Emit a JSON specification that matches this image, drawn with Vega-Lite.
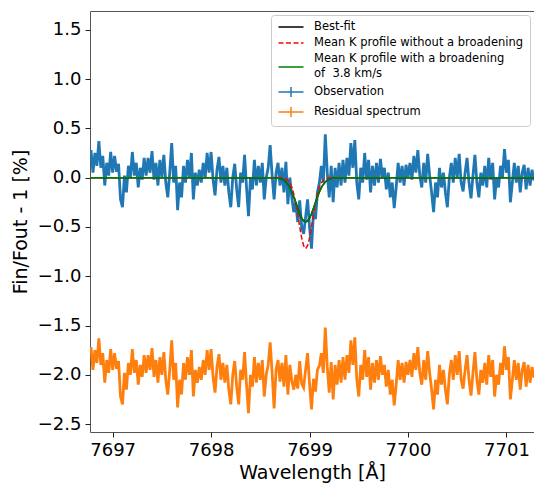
{
  "$schema": "https://vega.github.io/schema/vega-lite/v6.json",
  "width": 444,
  "height": 421,
  "autosize": "none",
  "padding": {"left": 90, "top": 11, "right": 0, "bottom": 55},
  "config": {
    "font": "DejaVu Sans",
    "view": {"stroke": "#555", "strokeWidth": 1},
    "axis": {"grid": false, "domain": false, "tickColor": "#222", "tickSize": 5, "tickWidth": 1, "labelFontSize": 18, "labelColor": "#000", "titleFontSize": 19, "titleFontWeight": "normal", "titleColor": "#000", "labelFont": "DejaVu Sans", "titleFont": "DejaVu Sans"},
    "axisY": {"labelPadding": 4, "titlePadding": 7},
    "axisX": {"labelPadding": 4, "titlePadding": 4}
  },
  "datasets": {
    "spec": [
      {"w":7696.78,"o":0.28,"r":-1.72},{"w":7696.80,"o":0.05,"r":-1.95},{"w":7696.82,"o":0.25,"r":-1.75},{"w":7696.84,"o":0.12,"r":-1.88},
      {"w":7696.86,"o":0.37,"r":-1.63},{"w":7696.88,"o":0.10,"r":-1.90},{"w":7696.90,"o":0.22,"r":-1.78},{"w":7696.92,"o":-0.08,"r":-2.08},
      {"w":7696.94,"o":0.15,"r":-1.85},{"w":7696.96,"o":0.02,"r":-1.98},{"w":7696.98,"o":0.26,"r":-1.74},{"w":7697.00,"o":0.05,"r":-1.95},
      {"w":7697.02,"o":0.22,"r":-1.78},{"w":7697.04,"o":0.06,"r":-1.94},{"w":7697.06,"o":0.14,"r":-1.86},{"w":7697.08,"o":-0.22,"r":-2.22},
      {"w":7697.10,"o":-0.30,"r":-2.30},{"w":7697.12,"o":0.02,"r":-1.98},{"w":7697.14,"o":-0.15,"r":-2.15},{"w":7697.16,"o":0.12,"r":-1.88},
      {"w":7697.18,"o":0.00,"r":-2.00},{"w":7697.20,"o":0.26,"r":-1.74},{"w":7697.22,"o":0.02,"r":-1.98},{"w":7697.24,"o":0.15,"r":-1.85},
      {"w":7697.26,"o":-0.10,"r":-2.10},{"w":7697.28,"o":0.10,"r":-1.90},{"w":7697.30,"o":-0.02,"r":-2.02},{"w":7697.32,"o":0.20,"r":-1.80},
      {"w":7697.34,"o":0.02,"r":-1.98},{"w":7697.36,"o":0.20,"r":-1.80},{"w":7697.38,"o":0.05,"r":-1.95},{"w":7697.40,"o":0.27,"r":-1.73},
      {"w":7697.42,"o":-0.02,"r":-2.02},{"w":7697.44,"o":0.15,"r":-1.85},{"w":7697.46,"o":-0.08,"r":-2.08},{"w":7697.48,"o":0.18,"r":-1.82},
      {"w":7697.50,"o":0.00,"r":-2.00},{"w":7697.52,"o":0.23,"r":-1.77},{"w":7697.54,"o":-0.05,"r":-2.05},{"w":7697.56,"o":-0.20,"r":-2.20},
      {"w":7697.58,"o":0.05,"r":-1.95},{"w":7697.60,"o":0.35,"r":-1.65},{"w":7697.62,"o":-0.05,"r":-2.05},{"w":7697.64,"o":0.12,"r":-1.88},
      {"w":7697.66,"o":-0.33,"r":-2.33},{"w":7697.68,"o":-0.05,"r":-2.05},{"w":7697.70,"o":-0.20,"r":-2.20},{"w":7697.72,"o":0.12,"r":-1.88},
      {"w":7697.74,"o":-0.05,"r":-2.05},{"w":7697.76,"o":0.18,"r":-1.82},{"w":7697.78,"o":0.00,"r":-2.00},{"w":7697.80,"o":0.25,"r":-1.75},
      {"w":7697.82,"o":-0.22,"r":-2.22},{"w":7697.84,"o":0.05,"r":-1.95},{"w":7697.86,"o":-0.08,"r":-2.08},{"w":7697.88,"o":0.08,"r":-1.92},
      {"w":7697.90,"o":-0.05,"r":-2.05},{"w":7697.92,"o":0.15,"r":-1.85},{"w":7697.94,"o":0.00,"r":-2.00},{"w":7697.96,"o":0.25,"r":-1.75},
      {"w":7697.98,"o":0.05,"r":-1.95},{"w":7698.00,"o":0.26,"r":-1.74},{"w":7698.02,"o":-0.02,"r":-2.02},{"w":7698.04,"o":-0.18,"r":-2.18},
      {"w":7698.06,"o":0.08,"r":-1.92},{"w":7698.08,"o":0.21,"r":-1.79},{"w":7698.10,"o":-0.05,"r":-2.05},{"w":7698.12,"o":0.12,"r":-1.88},
      {"w":7698.14,"o":-0.08,"r":-2.08},{"w":7698.16,"o":0.10,"r":-1.90},{"w":7698.18,"o":-0.15,"r":-2.15},{"w":7698.20,"o":-0.30,"r":-2.30},
      {"w":7698.22,"o":0.00,"r":-2.00},{"w":7698.24,"o":0.14,"r":-1.86},{"w":7698.26,"o":-0.12,"r":-2.12},{"w":7698.28,"o":-0.30,"r":-2.30},
      {"w":7698.30,"o":0.05,"r":-1.95},{"w":7698.32,"o":-0.05,"r":-2.05},{"w":7698.34,"o":0.23,"r":-1.77},{"w":7698.36,"o":-0.10,"r":-2.10},
      {"w":7698.38,"o":-0.39,"r":-2.39},{"w":7698.40,"o":0.00,"r":-2.00},{"w":7698.42,"o":-0.12,"r":-2.12},{"w":7698.44,"o":0.18,"r":-1.82},
      {"w":7698.46,"o":-0.08,"r":-2.08},{"w":7698.48,"o":0.12,"r":-1.88},{"w":7698.50,"o":-0.05,"r":-2.05},{"w":7698.52,"o":0.15,"r":-1.85},
      {"w":7698.54,"o":-0.22,"r":-2.22},{"w":7698.56,"o":0.00,"r":-2.00},{"w":7698.58,"o":0.10,"r":-1.90},{"w":7698.60,"o":0.33,"r":-1.67},
      {"w":7698.62,"o":0.02,"r":-1.98},{"w":7698.64,"o":-0.22,"r":-2.34},{"w":7698.66,"o":0.05,"r":-1.95},{"w":7698.68,"o":0.15,"r":-1.85},
      {"w":7698.70,"o":-0.08,"r":-2.07},{"w":7698.72,"o":0.10,"r":-1.88},{"w":7698.74,"o":-0.15,"r":-2.12},{"w":7698.76,"o":0.16,"r":-1.80},
      {"w":7698.78,"o":-0.27,"r":-2.20},{"w":7698.80,"o":0.00,"r":-1.90},{"w":7698.82,"o":-0.20,"r":-2.06},{"w":7698.84,"o":-0.35,"r":-2.15},
      {"w":7698.86,"o":-0.25,"r":-2.00},{"w":7698.88,"o":-0.45,"r":-2.14},{"w":7698.90,"o":-0.23,"r":-1.86},{"w":7698.92,"o":-0.50,"r":-2.09},
      {"w":7698.94,"o":-0.57,"r":-2.13},{"w":7698.96,"o":-0.40,"r":-1.95},{"w":7698.98,"o":-0.22,"r":-1.78},{"w":7699.00,"o":-0.50,"r":-2.09},
      {"w":7699.02,"o":-0.72,"r":-2.35},{"w":7699.04,"o":-0.35,"r":-2.04},{"w":7699.06,"o":-0.42,"r":-2.17},{"w":7699.08,"o":-0.15,"r":-1.95},
      {"w":7699.10,"o":-0.05,"r":-1.91},{"w":7699.12,"o":0.12,"r":-1.78},{"w":7699.14,"o":-0.05,"r":-1.98},{"w":7699.16,"o":0.44,"r":-1.52},
      {"w":7699.18,"o":0.05,"r":-1.92},{"w":7699.20,"o":-0.20,"r":-2.18},{"w":7699.22,"o":0.12,"r":-1.87},{"w":7699.24,"o":-0.25,"r":-2.25},
      {"w":7699.26,"o":0.10,"r":-1.90},{"w":7699.28,"o":-0.10,"r":-2.10},{"w":7699.30,"o":0.15,"r":-1.85},{"w":7699.32,"o":-0.08,"r":-2.08},
      {"w":7699.34,"o":0.18,"r":-1.82},{"w":7699.36,"o":-0.05,"r":-2.05},{"w":7699.38,"o":0.20,"r":-1.80},{"w":7699.40,"o":0.02,"r":-1.98},
      {"w":7699.42,"o":0.35,"r":-1.65},{"w":7699.44,"o":0.10,"r":-1.90},{"w":7699.46,"o":0.38,"r":-1.62},{"w":7699.48,"o":-0.05,"r":-2.05},
      {"w":7699.50,"o":-0.22,"r":-2.22},{"w":7699.52,"o":0.10,"r":-1.90},{"w":7699.54,"o":-0.05,"r":-2.05},{"w":7699.56,"o":0.25,"r":-1.75},
      {"w":7699.58,"o":-0.02,"r":-2.02},{"w":7699.60,"o":0.18,"r":-1.82},{"w":7699.62,"o":-0.15,"r":-2.15},{"w":7699.64,"o":0.12,"r":-1.88},
      {"w":7699.66,"o":-0.08,"r":-2.08},{"w":7699.68,"o":0.15,"r":-1.85},{"w":7699.70,"o":-0.05,"r":-2.05},{"w":7699.72,"o":0.19,"r":-1.81},
      {"w":7699.74,"o":0.00,"r":-2.00},{"w":7699.76,"o":0.10,"r":-1.90},{"w":7699.78,"o":-0.12,"r":-2.12},{"w":7699.80,"o":0.05,"r":-1.95},
      {"w":7699.82,"o":-0.20,"r":-2.20},{"w":7699.84,"o":-0.05,"r":-2.05},{"w":7699.86,"o":-0.31,"r":-2.31},{"w":7699.88,"o":-0.10,"r":-2.10},
      {"w":7699.90,"o":0.15,"r":-1.85},{"w":7699.92,"o":-0.05,"r":-2.05},{"w":7699.94,"o":0.12,"r":-1.88},{"w":7699.96,"o":-0.08,"r":-2.08},
      {"w":7699.98,"o":0.13,"r":-1.87},{"w":7700.00,"o":0.00,"r":-2.00},{"w":7700.02,"o":0.15,"r":-1.85},{"w":7700.04,"o":-0.02,"r":-2.02},
      {"w":7700.06,"o":0.22,"r":-1.78},{"w":7700.08,"o":0.05,"r":-1.95},{"w":7700.10,"o":0.28,"r":-1.72},{"w":7700.12,"o":0.02,"r":-1.98},
      {"w":7700.14,"o":-0.10,"r":-2.10},{"w":7700.16,"o":0.15,"r":-1.85},{"w":7700.18,"o":-0.05,"r":-2.05},{"w":7700.20,"o":0.24,"r":-1.76},
      {"w":7700.22,"o":0.02,"r":-1.98},{"w":7700.24,"o":-0.15,"r":-2.15},{"w":7700.26,"o":-0.35,"r":-2.35},{"w":7700.28,"o":-0.05,"r":-2.05},
      {"w":7700.30,"o":-0.20,"r":-2.20},{"w":7700.32,"o":0.10,"r":-1.90},{"w":7700.34,"o":-0.10,"r":-2.10},{"w":7700.36,"o":0.05,"r":-1.95},
      {"w":7700.38,"o":-0.15,"r":-2.15},{"w":7700.40,"o":-0.30,"r":-2.30},{"w":7700.42,"o":0.00,"r":-2.00},{"w":7700.44,"o":0.15,"r":-1.85},
      {"w":7700.46,"o":-0.05,"r":-2.05},{"w":7700.48,"o":0.20,"r":-1.80},{"w":7700.50,"o":0.00,"r":-2.00},{"w":7700.52,"o":0.24,"r":-1.76},
      {"w":7700.54,"o":-0.05,"r":-2.05},{"w":7700.56,"o":-0.14,"r":-2.14},{"w":7700.58,"o":0.05,"r":-1.95},{"w":7700.60,"o":0.20,"r":-1.80},
      {"w":7700.62,"o":-0.05,"r":-2.05},{"w":7700.64,"o":-0.21,"r":-2.21},{"w":7700.66,"o":0.02,"r":-1.98},{"w":7700.68,"o":0.23,"r":-1.77},
      {"w":7700.70,"o":-0.05,"r":-2.05},{"w":7700.72,"o":-0.20,"r":-2.20},{"w":7700.74,"o":0.05,"r":-1.95},{"w":7700.76,"o":-0.08,"r":-2.08},
      {"w":7700.78,"o":0.12,"r":-1.88},{"w":7700.80,"o":-0.10,"r":-2.10},{"w":7700.82,"o":0.20,"r":-1.80},{"w":7700.84,"o":-0.02,"r":-2.02},
      {"w":7700.86,"o":0.15,"r":-1.85},{"w":7700.88,"o":-0.22,"r":-2.22},{"w":7700.90,"o":0.00,"r":-2.00},{"w":7700.92,"o":-0.10,"r":-2.10},
      {"w":7700.94,"o":0.12,"r":-1.88},{"w":7700.96,"o":0.00,"r":-2.00},{"w":7700.98,"o":0.29,"r":-1.71},{"w":7701.00,"o":0.05,"r":-1.95},
      {"w":7701.02,"o":0.18,"r":-1.82},{"w":7701.04,"o":-0.25,"r":-2.25},{"w":7701.06,"o":-0.05,"r":-2.05},{"w":7701.08,"o":0.15,"r":-1.85},
      {"w":7701.10,"o":-0.05,"r":-2.05},{"w":7701.12,"o":0.12,"r":-1.88},{"w":7701.14,"o":-0.15,"r":-2.15},{"w":7701.16,"o":0.05,"r":-1.95},
      {"w":7701.18,"o":0.13,"r":-1.87},{"w":7701.20,"o":-0.12,"r":-2.12},{"w":7701.22,"o":0.10,"r":-1.90},{"w":7701.24,"o":-0.08,"r":-2.08},
      {"w":7701.26,"o":0.08,"r":-1.92},{"w":7701.28,"o":-0.03,"r":-2.03}
    ],
    "fit": [
      {"w":7696.77,"b":0,"n":0,"g":0},{"w":7698.60,"b":0,"n":0,"g":0},{"w":7698.66,"b":-0.003,"n":0,"g":-0.003},
      {"w":7698.70,"b":-0.009,"n":-0.001,"g":-0.009},{"w":7698.72,"b":-0.016,"n":-0.002,"g":-0.016},{"w":7698.74,"b":-0.027,"n":-0.005,"g":-0.027},
      {"w":7698.76,"b":-0.045,"n":-0.012,"g":-0.045},{"w":7698.78,"b":-0.069,"n":-0.026,"g":-0.069},{"w":7698.80,"b":-0.102,"n":-0.053,"g":-0.102},
      {"w":7698.82,"b":-0.145,"n":-0.097,"g":-0.145},{"w":7698.84,"b":-0.196,"n":-0.166,"g":-0.196},{"w":7698.86,"b":-0.252,"n":-0.259,"g":-0.252},
      {"w":7698.88,"b":-0.311,"n":-0.375,"g":-0.311},{"w":7698.90,"b":-0.366,"n":-0.499,"g":-0.366},{"w":7698.92,"b":-0.410,"n":-0.611,"g":-0.410},
      {"w":7698.94,"b":-0.440,"n":-0.691,"g":-0.440},{"w":7698.96,"b":-0.450,"n":-0.720,"g":-0.450},{"w":7698.98,"b":-0.440,"n":-0.691,"g":-0.440},
      {"w":7699.00,"b":-0.410,"n":-0.611,"g":-0.410},{"w":7699.02,"b":-0.366,"n":-0.499,"g":-0.366},{"w":7699.04,"b":-0.311,"n":-0.375,"g":-0.311},
      {"w":7699.06,"b":-0.252,"n":-0.259,"g":-0.252},{"w":7699.08,"b":-0.196,"n":-0.166,"g":-0.196},{"w":7699.10,"b":-0.145,"n":-0.097,"g":-0.145},
      {"w":7699.12,"b":-0.102,"n":-0.053,"g":-0.102},{"w":7699.14,"b":-0.069,"n":-0.026,"g":-0.069},{"w":7699.16,"b":-0.045,"n":-0.012,"g":-0.045},
      {"w":7699.18,"b":-0.027,"n":-0.005,"g":-0.027},{"w":7699.20,"b":-0.016,"n":-0.002,"g":-0.016},{"w":7699.22,"b":-0.009,"n":-0.001,"g":-0.009},
      {"w":7699.26,"b":-0.003,"n":0,"g":-0.003},{"w":7699.32,"b":0,"n":0,"g":0},{"w":7701.28,"b":0,"n":0,"g":0}
    ]
  },
  "encoding": {
    "x": {"field": "w", "type": "quantitative", "scale": {"domain": [7696.77, 7701.28], "nice": false, "zero": false},
          "axis": {"title": "Wavelength [Å]", "values": [7697, 7698, 7699, 7700, 7701], "format": "d"}}
  },
  "layer": [
    {
      "data": {"name": "spec"},
      "mark": {"type": "line", "strokeWidth": 2.8, "clip": true},
      "encoding": {
        "y": {"field": "o", "type": "quantitative", "scale": {"domain": [-2.58, 1.69], "nice": false, "zero": false},
              "axis": {"title": "Fin/Fout - 1 [%]", "values": [-2.5, -2, -1.5, -1, -0.5, 0, 0.5, 1, 1.5], "format": ".1f"}},
        "color": {"datum": "Observation", "type": "nominal",
          "scale": {"domain": ["Best-fit", "Mean K profile without a broadening", "Mean K profile with a broadening of 3.8 km/s", "Observation", "Residual spectrum"], "range": ["#000000", "#ff0000", "#008000", "#1f77b4", "#ff7f0e"]},
          "legend": {"title": null, "orient": "top-right", "offset": 4, "symbolType": "stroke", "symbolSize": 100, "symbolStrokeWidth": 1.5, "symbolOffset": 8,
            "labelFontSize": 11.5, "labelFont": "DejaVu Sans", "labelColor": "#000", "labelLimit": 0, "labelOffset": 17, "rowPadding": 4,
            "fillColor": "white", "strokeColor": "#cccccc", "cornerRadius": 3, "padding": 6,
            "labelExpr": "datum.label == 'Mean K profile with a broadening of 3.8 km/s' ? ['Mean K profile with a broadening', '\u00a0of\u00a0\u00a03.8 km/s'] : datum.label == 'Mean K profile without a broadening' ? '\u00a0' + datum.label : datum.label",
            "encode": {
              "symbols": {"update": {
                "shape": {"signal": "(datum.value == 'Observation' || datum.value == 'Residual spectrum') ? 'M-2.5,0H2.5M0,-1V1' : datum.value == 'Mean K profile with a broadening of 3.8 km/s' ? 'M-2.5,1.6H2.5' : 'M-2.5,0H2.5'"},
                "strokeDash": {"signal": "datum.value == 'Mean K profile without a broadening' ? [5, 2.5] : [1, 0]"}}},
              "labels": {"update": {"lineHeight": {"value": 15}}}}}}
      }
    },
    {
      "data": {"name": "spec"},
      "mark": {"type": "line", "strokeWidth": 2.8, "clip": true},
      "encoding": {
        "y": {"field": "r", "type": "quantitative", "scale": {"domain": [-2.58, 1.69], "nice": false, "zero": false},
              "axis": {"title": "Fin/Fout - 1 [%]", "values": [-2.5, -2, -1.5, -1, -0.5, 0, 0.5, 1, 1.5], "format": ".1f"}},
        "color": {"datum": "Residual spectrum", "type": "nominal",
          "scale": {"domain": ["Best-fit", "Mean K profile without a broadening", "Mean K profile with a broadening of 3.8 km/s", "Observation", "Residual spectrum"], "range": ["#000000", "#ff0000", "#008000", "#1f77b4", "#ff7f0e"]},
          "legend": {"title": null, "orient": "top-right", "offset": 4, "symbolType": "stroke", "symbolSize": 100, "symbolStrokeWidth": 1.5, "symbolOffset": 8,
            "labelFontSize": 11.5, "labelFont": "DejaVu Sans", "labelColor": "#000", "labelLimit": 0, "labelOffset": 17, "rowPadding": 4,
            "fillColor": "white", "strokeColor": "#cccccc", "cornerRadius": 3, "padding": 6,
            "labelExpr": "datum.label == 'Mean K profile with a broadening of 3.8 km/s' ? ['Mean K profile with a broadening', '\u00a0of\u00a0\u00a03.8 km/s'] : datum.label == 'Mean K profile without a broadening' ? '\u00a0' + datum.label : datum.label",
            "encode": {
              "symbols": {"update": {
                "shape": {"signal": "(datum.value == 'Observation' || datum.value == 'Residual spectrum') ? 'M-2.5,0H2.5M0,-1V1' : datum.value == 'Mean K profile with a broadening of 3.8 km/s' ? 'M-2.5,1.6H2.5' : 'M-2.5,0H2.5'"},
                "strokeDash": {"signal": "datum.value == 'Mean K profile without a broadening' ? [5, 2.5] : [1, 0]"}}},
              "labels": {"update": {"lineHeight": {"value": 15}}}}}}
      }
    },
    {
      "data": {"name": "fit"},
      "mark": {"type": "line", "strokeWidth": 1.5, "clip": true},
      "encoding": {
        "y": {"field": "b", "type": "quantitative", "scale": {"domain": [-2.58, 1.69], "nice": false, "zero": false},
              "axis": {"title": "Fin/Fout - 1 [%]", "values": [-2.5, -2, -1.5, -1, -0.5, 0, 0.5, 1, 1.5], "format": ".1f"}},
        "color": {"datum": "Best-fit", "type": "nominal",
          "scale": {"domain": ["Best-fit", "Mean K profile without a broadening", "Mean K profile with a broadening of 3.8 km/s", "Observation", "Residual spectrum"], "range": ["#000000", "#ff0000", "#008000", "#1f77b4", "#ff7f0e"]},
          "legend": {"title": null, "orient": "top-right", "offset": 4, "symbolType": "stroke", "symbolSize": 100, "symbolStrokeWidth": 1.5, "symbolOffset": 8,
            "labelFontSize": 11.5, "labelFont": "DejaVu Sans", "labelColor": "#000", "labelLimit": 0, "labelOffset": 17, "rowPadding": 4,
            "fillColor": "white", "strokeColor": "#cccccc", "cornerRadius": 3, "padding": 6,
            "labelExpr": "datum.label == 'Mean K profile with a broadening of 3.8 km/s' ? ['Mean K profile with a broadening', '\u00a0of\u00a0\u00a03.8 km/s'] : datum.label == 'Mean K profile without a broadening' ? '\u00a0' + datum.label : datum.label",
            "encode": {
              "symbols": {"update": {
                "shape": {"signal": "(datum.value == 'Observation' || datum.value == 'Residual spectrum') ? 'M-2.5,0H2.5M0,-1V1' : datum.value == 'Mean K profile with a broadening of 3.8 km/s' ? 'M-2.5,1.6H2.5' : 'M-2.5,0H2.5'"},
                "strokeDash": {"signal": "datum.value == 'Mean K profile without a broadening' ? [5, 2.5] : [1, 0]"}}},
              "labels": {"update": {"lineHeight": {"value": 15}}}}}}
      }
    },
    {
      "data": {"name": "fit"},
      "mark": {"type": "line", "strokeWidth": 1.5, "strokeDash": [5, 2.5], "clip": true},
      "encoding": {
        "y": {"field": "n", "type": "quantitative", "scale": {"domain": [-2.58, 1.69], "nice": false, "zero": false},
              "axis": {"title": "Fin/Fout - 1 [%]", "values": [-2.5, -2, -1.5, -1, -0.5, 0, 0.5, 1, 1.5], "format": ".1f"}},
        "color": {"datum": "Mean K profile without a broadening", "type": "nominal",
          "scale": {"domain": ["Best-fit", "Mean K profile without a broadening", "Mean K profile with a broadening of 3.8 km/s", "Observation", "Residual spectrum"], "range": ["#000000", "#ff0000", "#008000", "#1f77b4", "#ff7f0e"]},
          "legend": {"title": null, "orient": "top-right", "offset": 4, "symbolType": "stroke", "symbolSize": 100, "symbolStrokeWidth": 1.5, "symbolOffset": 8,
            "labelFontSize": 11.5, "labelFont": "DejaVu Sans", "labelColor": "#000", "labelLimit": 0, "labelOffset": 17, "rowPadding": 4,
            "fillColor": "white", "strokeColor": "#cccccc", "cornerRadius": 3, "padding": 6,
            "labelExpr": "datum.label == 'Mean K profile with a broadening of 3.8 km/s' ? ['Mean K profile with a broadening', '\u00a0of\u00a0\u00a03.8 km/s'] : datum.label == 'Mean K profile without a broadening' ? '\u00a0' + datum.label : datum.label",
            "encode": {
              "symbols": {"update": {
                "shape": {"signal": "(datum.value == 'Observation' || datum.value == 'Residual spectrum') ? 'M-2.5,0H2.5M0,-1V1' : datum.value == 'Mean K profile with a broadening of 3.8 km/s' ? 'M-2.5,1.6H2.5' : 'M-2.5,0H2.5'"},
                "strokeDash": {"signal": "datum.value == 'Mean K profile without a broadening' ? [5, 2.5] : [1, 0]"}}},
              "labels": {"update": {"lineHeight": {"value": 15}}}}}}
      }
    },
    {
      "data": {"name": "fit"},
      "mark": {"type": "line", "strokeWidth": 1.5, "clip": true},
      "encoding": {
        "y": {"field": "g", "type": "quantitative", "scale": {"domain": [-2.58, 1.69], "nice": false, "zero": false},
              "axis": {"title": "Fin/Fout - 1 [%]", "values": [-2.5, -2, -1.5, -1, -0.5, 0, 0.5, 1, 1.5], "format": ".1f"}},
        "color": {"datum": "Mean K profile with a broadening of 3.8 km/s", "type": "nominal",
          "scale": {"domain": ["Best-fit", "Mean K profile without a broadening", "Mean K profile with a broadening of 3.8 km/s", "Observation", "Residual spectrum"], "range": ["#000000", "#ff0000", "#008000", "#1f77b4", "#ff7f0e"]},
          "legend": {"title": null, "orient": "top-right", "offset": 4, "symbolType": "stroke", "symbolSize": 100, "symbolStrokeWidth": 1.5, "symbolOffset": 8,
            "labelFontSize": 11.5, "labelFont": "DejaVu Sans", "labelColor": "#000", "labelLimit": 0, "labelOffset": 17, "rowPadding": 4,
            "fillColor": "white", "strokeColor": "#cccccc", "cornerRadius": 3, "padding": 6,
            "labelExpr": "datum.label == 'Mean K profile with a broadening of 3.8 km/s' ? ['Mean K profile with a broadening', '\u00a0of\u00a0\u00a03.8 km/s'] : datum.label == 'Mean K profile without a broadening' ? '\u00a0' + datum.label : datum.label",
            "encode": {
              "symbols": {"update": {
                "shape": {"signal": "(datum.value == 'Observation' || datum.value == 'Residual spectrum') ? 'M-2.5,0H2.5M0,-1V1' : datum.value == 'Mean K profile with a broadening of 3.8 km/s' ? 'M-2.5,1.6H2.5' : 'M-2.5,0H2.5'"},
                "strokeDash": {"signal": "datum.value == 'Mean K profile without a broadening' ? [5, 2.5] : [1, 0]"}}},
              "labels": {"update": {"lineHeight": {"value": 15}}}}}}
      }
    }
  ]
}
